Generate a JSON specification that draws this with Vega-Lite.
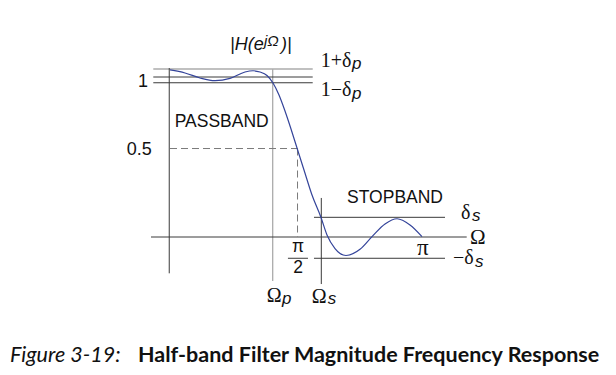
{
  "$schema": "https://vega.github.io/schema/vega-lite/v6.json",
  "width": 616,
  "height": 375,
  "autosize": "none",
  "padding": 0,
  "background": "white",
  "config": {"view": {"stroke": null}},
  "datasets": {
    "curve": [
      {"w": 0.0, "h": 1.044},
      {"w": 0.0595, "h": 1.025},
      {"w": 0.119, "h": 0.994},
      {"w": 0.1786, "h": 0.977},
      {"w": 0.2381, "h": 0.991},
      {"w": 0.2976, "h": 1.031},
      {"w": 0.3294, "h": 1.039},
      {"w": 0.3571, "h": 1.031},
      {"w": 0.3849, "h": 1.009},
      {"w": 0.4087, "h": 0.9625},
      {"w": 0.4325, "h": 0.8875},
      {"w": 0.4563, "h": 0.7875},
      {"w": 0.4802, "h": 0.675},
      {"w": 0.504, "h": 0.556},
      {"w": 0.5317, "h": 0.419},
      {"w": 0.5635, "h": 0.2625},
      {"w": 0.5992, "h": 0.122},
      {"w": 0.623, "h": 0.0125},
      {"w": 0.6548, "h": -0.072},
      {"w": 0.6984, "h": -0.1156},
      {"w": 0.754, "h": -0.077},
      {"w": 0.8016, "h": 0.002},
      {"w": 0.8532, "h": 0.081},
      {"w": 0.9008, "h": 0.114},
      {"w": 0.9524, "h": 0.075},
      {"w": 1.0, "h": 0.002}
    ],
    "rulesDark": [
      {"name": "omega axis", "w": -0.0754, "w2": 1.1774, "h": 0.0, "h2": 0.0},
      {"name": "magnitude axis", "w": -0.003, "w2": -0.003, "h": 1.056, "h2": -0.227},
      {"name": "1", "w": -0.0663, "w2": 0.5663, "h": 1.0, "h2": 1.0},
      {"name": "1-dp", "w": -0.0663, "w2": 0.5663, "h": 0.964, "h2": 0.964},
      {"name": "omega s", "w": 0.6004, "w2": 0.6004, "h": 0.244, "h2": -0.294},
      {"name": "ds", "w": 0.5714, "w2": 1.0913, "h": 0.123, "h2": 0.123},
      {"name": "-ds", "w": 0.5714, "w2": 1.0913, "h": -0.133, "h2": -0.133},
      {"name": "fraction bar", "w": 0.468, "w2": 0.5476, "h": -0.133, "h2": -0.133}
    ],
    "rulesGray": [
      {"name": "1+dp", "w": -0.0663, "w2": 0.5663, "h": 1.05, "h2": 1.05},
      {"name": "omega p", "w": 0.4075, "w2": 0.4075, "h": 1.05, "h2": -0.275}
    ],
    "rulesDashed": [
      {"name": "half", "w": 0.0, "w2": 0.506, "h": 0.553, "h2": 0.553},
      {"name": "pi/2", "w": 0.506, "w2": 0.506, "h": 0.553, "h2": 0.0}
    ],
    "sansCenter": [
      {"label": "PASSBAND", "w": 0.2052, "h": 0.689},
      {"label": "STOPBAND", "w": 0.8929, "h": 0.2106},
      {"label": "π", "w": 0.508, "h": -0.094},
      {"label": "2", "w": 0.508, "h": -0.227}
    ],
    "sansRight": [
      {"label": "1", "w": -0.0873, "h": 0.9375},
      {"label": "0.5", "w": -0.0726, "h": 0.5125}
    ],
    "serifLeft": [
      {"label": "1+δ", "w": 0.598, "h": 1.0644},
      {"label": "1−δ", "w": 0.598, "h": 0.881},
      {"label": "δ", "w": 1.1548, "h": 0.1125},
      {"label": "−δ", "w": 1.123, "h": -0.169},
      {"label": "Ω", "w": 0.3837, "h": -0.404},
      {"label": "Ω", "w": 0.5623, "h": -0.414}
    ],
    "serifAxis": [
      {"label": "Ω", "w": 1.1905, "h": -0.044}
    ],
    "serifBig": [
      {"label": "π", "w": 0.9802, "h": -0.1125}
    ],
    "subscripts": [
      {"label": "p", "w": 0.7222, "h": 1.05},
      {"label": "p", "w": 0.7222, "h": 0.8625},
      {"label": "s", "w": 1.1984, "h": 0.1},
      {"label": "s", "w": 1.2103, "h": -0.1875},
      {"label": "p", "w": 0.4444, "h": -0.419},
      {"label": "s", "w": 0.6258, "h": -0.42}
    ],
    "titleMain": [
      {"label": "|H(e", "w": 0.2381, "h": 1.169},
      {"label": ")|", "w": 0.4405, "h": 1.169}
    ],
    "titleSup": [
      {"label": "jΩ", "w": 0.373, "h": 1.194}
    ],
    "captionNumber": [
      {"label": "Figure 3-19:", "w": -0.6349, "h": -0.7813}
    ],
    "captionTitle": [
      {"label": "Half-band Filter Magnitude Frequency Response", "w": -0.1270, "h": -0.7813}
    ]
  },
  "encoding": {
    "x": {"field": "w", "type": "quantitative", "scale": {"domain": [-0.6746, 1.7698], "nice": false, "zero": false}, "axis": null},
    "y": {"field": "h", "type": "quantitative", "scale": {"domain": [-0.8625, 1.48125], "nice": false, "zero": false}, "axis": null}
  },
  "layer": [
    {
      "data": {"name": "rulesGray"},
      "mark": {"type": "rule", "color": "#ababab", "strokeWidth": 1.3},
      "encoding": {"x2": {"field": "w2"}, "y2": {"field": "h2"}}
    },
    {
      "data": {"name": "rulesDark"},
      "mark": {"type": "rule", "color": "#3a3a3a", "strokeWidth": 1},
      "encoding": {"x2": {"field": "w2"}, "y2": {"field": "h2"}}
    },
    {
      "data": {"name": "rulesDashed"},
      "mark": {"type": "rule", "color": "#7a7a7a", "strokeWidth": 1, "strokeDash": [7, 4]},
      "encoding": {"x2": {"field": "w2"}, "y2": {"field": "h2"}}
    },
    {
      "data": {"name": "curve"},
      "mark": {"type": "line", "color": "#34449a", "strokeWidth": 1.2, "interpolate": "monotone"},
      "encoding": {}
    },
    {
      "data": {"name": "sansCenter"},
      "mark": {"type": "text", "font": "Liberation Sans", "fontSize": 17.5, "align": "center", "baseline": "alphabetic", "color": "#111"},
      "encoding": {"text": {"field": "label"}}
    },
    {
      "data": {"name": "sansRight"},
      "mark": {"type": "text", "font": "Liberation Sans", "fontSize": 18, "align": "right", "baseline": "alphabetic", "color": "#111"},
      "encoding": {"text": {"field": "label"}}
    },
    {
      "data": {"name": "serifLeft"},
      "mark": {"type": "text", "font": "Liberation Serif", "fontSize": 20, "align": "left", "baseline": "alphabetic", "color": "#111"},
      "encoding": {"text": {"field": "label"}}
    },
    {
      "data": {"name": "serifAxis"},
      "mark": {"type": "text", "font": "Liberation Serif", "fontSize": 21, "align": "left", "baseline": "alphabetic", "color": "#111"},
      "encoding": {"text": {"field": "label"}}
    },
    {
      "data": {"name": "serifBig"},
      "mark": {"type": "text", "font": "Liberation Serif", "fontSize": 23, "align": "left", "baseline": "alphabetic", "color": "#111"},
      "encoding": {"text": {"field": "label"}}
    },
    {
      "data": {"name": "subscripts"},
      "mark": {"type": "text", "font": "Liberation Sans", "fontSize": 17, "fontStyle": "italic", "align": "left", "baseline": "alphabetic", "color": "#111"},
      "encoding": {"text": {"field": "label"}}
    },
    {
      "data": {"name": "titleMain"},
      "mark": {"type": "text", "font": "Liberation Sans", "fontSize": 18, "fontStyle": "italic", "align": "left", "baseline": "alphabetic", "color": "#111"},
      "encoding": {"text": {"field": "label"}}
    },
    {
      "data": {"name": "titleSup"},
      "mark": {"type": "text", "font": "Liberation Sans", "fontSize": 15, "fontStyle": "italic", "align": "left", "baseline": "alphabetic", "color": "#111"},
      "encoding": {"text": {"field": "label"}}
    },
    {
      "data": {"name": "captionNumber"},
      "mark": {"type": "text", "font": "Lato", "fontSize": 21.5, "fontStyle": "italic", "align": "left", "baseline": "alphabetic", "color": "#111"},
      "encoding": {"text": {"field": "label"}}
    },
    {
      "data": {"name": "captionTitle"},
      "mark": {"type": "text", "font": "Lato", "fontSize": 21.5, "fontWeight": "bold", "align": "left", "baseline": "alphabetic", "color": "#111"},
      "encoding": {"text": {"field": "label"}}
    }
  ]
}
